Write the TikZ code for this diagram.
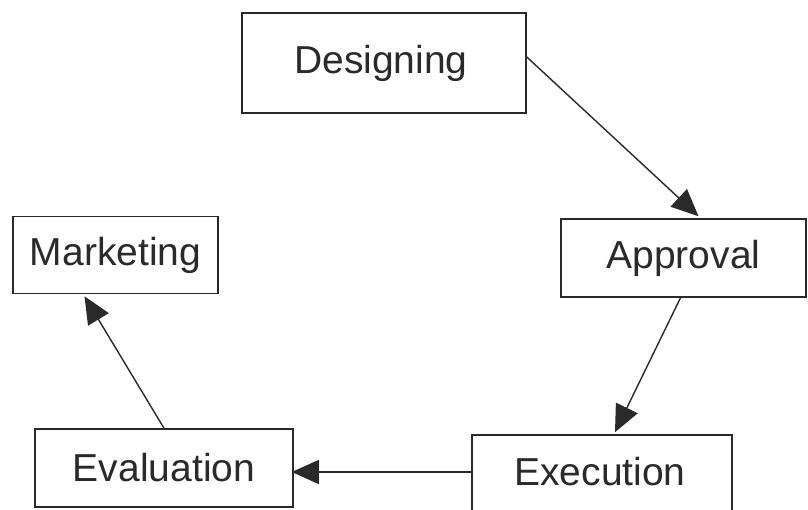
\documentclass[tikz,border=0pt]{standalone}
\usepackage{fontspec}
\setmainfont{Liberation Sans}
\usetikzlibrary{arrows.meta,calc}
\definecolor{ink}{HTML}{2A2A2A}
\tikzset{
  box/.style={draw=ink, line width=1.6pt, text=ink, inner sep=0pt,
    font=\fontsize{39}{46}\selectfont},
  flow/.style={draw=ink, line width=1.4pt, -{Triangle[length=27pt,width=24pt]}}
}
\begin{document}
\begin{tikzpicture}[x=1pt,y=-1pt]
\useasboundingbox (0,0) rectangle (808,509);
\fill[white] (0,0) rectangle (808,509);
\node[box, minimum width=284pt, minimum height=100pt] (des) at (384,63) {\raisebox{-3pt}{Designing}\hspace*{6pt}};
\node[box, minimum width=245pt, minimum height=78pt] (app) at (683.5,258) {Approval};
\node[box, minimum width=205pt, minimum height=77pt] (mar) at (115.5,255) {Marketing};
\node[box, minimum width=258pt, minimum height=78pt] (eva) at (164,468) {Evaluation};
\node[box, minimum width=260pt, minimum height=90pt, text depth=0pt] (exe) at (602,480) {};
\node[text=ink, font=\fontsize{39}{46}\selectfont] (exet) at (600,472) {Execution};
\draw[flow] ([yshift=6pt]des.east) -- ([xshift=15pt,yshift=2pt]app.north);
\draw[flow] ([xshift=-3pt]app.south) -- ([xshift=13pt,yshift=2pt]exe.north);
\draw[flow] ([yshift=8pt]exe.west) -- ([yshift=8pt,xshift=-2pt]exe.west -| eva.east);
\draw[flow] (eva.north) -- ([xshift=-31pt,yshift=-2pt]mar.south);
\end{tikzpicture}
\end{document}
